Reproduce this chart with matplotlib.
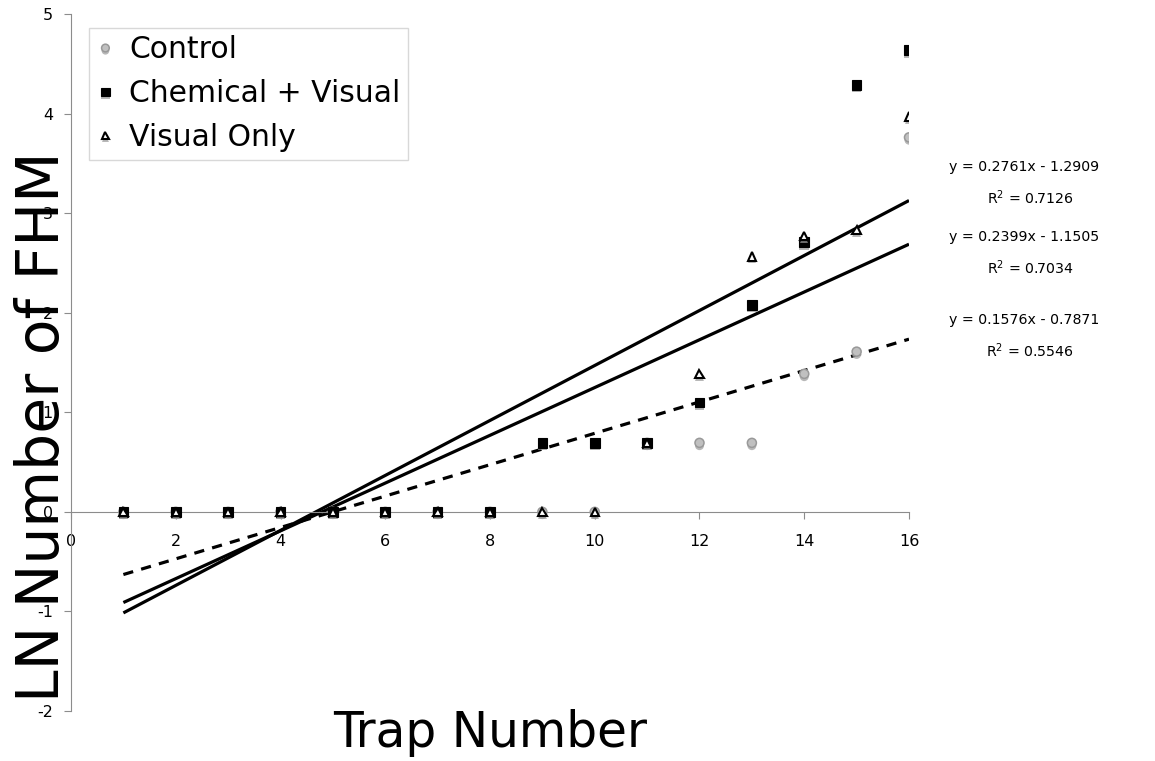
import numpy as np
import matplotlib
matplotlib.use("Agg")
import matplotlib.pyplot as plt
import matplotlib.patheffects as pe

plt.rcParams['axes.unicode_minus'] = False

traps = np.arange(1, 17)
control = [0, 0, 0, 0, 0, 0, 0, 0, 0, 0, 0.693, 0.693, 0.693, 1.386, 1.609, 3.761]
chem_visual = [0, 0, 0, 0, 0, 0, 0, 0, 0.693, 0.693, 0.693, 1.099, 2.079, 2.708, 4.290, 4.635]
visual_only = [0, 0, 0, 0, 0, 0, 0, 0, 0, 0, 0.693, 1.386, 2.565, 2.773, 2.833, 3.970]

# trendline coefficients (slope, intercept, R^2)
fit_chem = (0.2761, -1.2909, 0.7126)
fit_visual = (0.2399, -1.1505, 0.7034)
fit_control = (0.1576, -0.7871, 0.5546)

xticks = [0, 2, 4, 6, 8, 10, 12, 14, 16]
yticks = [-2, -1, 0, 1, 2, 3, 4, 5]

fig = plt.figure(figsize=(11.55, 7.61), dpi=100)
ax = fig.add_axes([71/1155, 1 - 711/761, (909-71)/1155, (711-14)/761])
ax.set_xlim(0, 16)
ax.set_ylim(-2, 5)

shadow = [pe.SimplePatchShadow(offset=(0, -2.0), shadow_rgbFace='#9a9a9a', alpha=0.7), pe.Normal()]

# trendlines
xl = np.array([1, 16])
for (m, b, r2), ls in [(fit_chem, '-'), (fit_visual, '-'), (fit_control, (0, (3.2, 2.6)))]:
    ax.plot(xl, m * xl + b, color='black', lw=2.3, ls=ls, zorder=2, solid_capstyle='butt')

ax.plot(traps, control, ls='none', marker='o', ms=6.5, mfc='#c0c0c0', mec='#999999', mew=1.1,
        label='Control', zorder=3, path_effects=shadow)
ax.plot(traps, chem_visual, ls='none', marker='s', ms=7, mfc='black', mec='black', mew=0.8,
        label='Chemical + Visual', zorder=4, path_effects=shadow)
ax.plot(traps, visual_only, ls='none', marker='^', ms=6, mfc='white', mec='black', mew=1.5,
        label='Visual Only', zorder=5, path_effects=shadow)

# axes styling
for s in ['top', 'right']:
    ax.spines[s].set_visible(False)
ax.spines['bottom'].set_position(('data', 0))
ax.spines['bottom'].set_color('#8c8c8c')
ax.spines['left'].set_color('#8c8c8c')
ax.set_xticks(xticks)
ax.set_yticks(yticks)
ax.tick_params(axis='x', direction='out', length=5, color='#8c8c8c', labelsize=11.5, pad=11)
ax.tick_params(axis='y', direction='out', length=5, color='#8c8c8c', labelsize=11.5, pad=8)

fig.text(490/1155, 1 - 733/761, 'Trap Number', fontsize=35, ha='center', va='center')
fig.text(43/1155, 1 - 427/761, 'LN Number of FHM', fontsize=42, ha='center', va='center', rotation=90)

leg = ax.legend(loc='upper left', bbox_to_anchor=((89-71)/838, (711-28)/697), fontsize=21.5,
                frameon=True, fancybox=False, edgecolor='#cfcfcf', handlelength=0.6,
                handletextpad=0.5, borderpad=0.25, labelspacing=0.5, borderaxespad=0,
                markerscale=0.85)
leg.get_frame().set_linewidth(1.0)

# equations
eqs = [(fit_chem, 167, 198), (fit_visual, 237, 268), (fit_control, 320, 351)]
for (m, b, r2), y1, y2 in eqs:
    fig.text(1024/1155, 1 - y1/761, f'y = {m:.4f}x - {abs(b):.4f}', fontsize=10.2, ha='center', va='center')
    fig.text(1030/1155, 1 - y2/761, f'R$^2$ = {r2:.4f}', fontsize=10.2, ha='center', va='center')

fig.savefig('out.png', dpi=100)
